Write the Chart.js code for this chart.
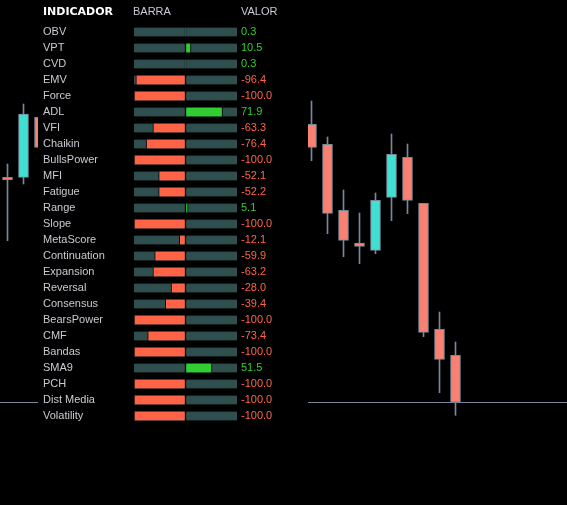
<!DOCTYPE html>
<html>
<head>
<meta charset="utf-8">
<script src="https://cdn.jsdelivr.net/npm/chart.js@4.4.1/dist/chart.umd.min.js"></script>
<style>
  html, body { margin: 0; padding: 0; background: #000; }
  #wrap { position: relative; width: 567px; height: 505px; overflow: hidden; background: #000; }
  #priceChart { position: absolute; left: 0; top: 0; }
  #tableChart { position: absolute; left: 38px; top: 0; background: #000; }
</style>
</head>
<body>
<div id="wrap">
  <canvas id="priceChart" width="567" height="505"></canvas>
  <canvas id="tableChart" width="270" height="430"></canvas>
</div>
<script>
// Velas (las ocultas detras de la tabla quedan en null)
const opens  = [32.77, 32.77, 38.77, null, null, null, null, null, null, null, null, null, null, null, null, null, null, null, null, 38.07, 36.07, 29.47, 26.20, 25.47, 30.77, 34.77, 30.17, 17.57, 14.97];
const highs  = [34.10, 40.10, 39.30, null, null, null, null, null, null, null, null, null, null, null, null, null, null, null, null, 40.40, 36.80, 31.50, 29.20, 31.20, 37.10, 36.10, 30.17, 19.30, 16.30];
const lows   = [26.43, 32.10, 35.20, null, null, null, null, null, null, null, null, null, null, null, null, null, null, null, null, 34.43, 27.13, 24.83, 24.13, 25.13, 28.43, 29.13, 16.83, 11.23, 8.97];
const closes = [32.50, 39.10, 35.77, null, null, null, null, null, null, null, null, null, null, null, null, null, null, null, null, 35.77, 29.17, 26.47, 25.87, 30.47, 35.07, 30.47, 17.27, 14.57, 10.30];

// Tabla de indicadores
const indicators = ['OBV', 'VPT', 'CVD', 'EMV', 'Force', 'ADL', 'VFI', 'Chaikin', 'BullsPower', 'MFI', 'Fatigue', 'Range', 'Slope', 'MetaScore', 'Continuation', 'Expansion', 'Reversal', 'Consensus', 'BearsPower', 'CMF', 'Bandas', 'SMA9', 'PCH', 'Dist Media', 'Volatility'];
const values = [0.3, 10.5, 0.3, -96.4, -100.0, 71.9, -63.3, -76.4, -100.0, -52.1, -52.2, 5.1, -100.0, -12.1, -59.9, -63.2, -28.0, -39.4, -100.0, -73.4, -100.0, 51.5, -100.0, -100.0, -100.0];
const headers = ['INDICADOR', 'BARRA', 'VALOR'];
const barMin = -100;
const barMax = 100;

const UP = '#40e0d0';
const DOWN = '#fa8072';
const EDGE = '#778899';
const GREEN = '#32cd32';
const RED = '#ff6347';
const TRACK = '#2f4f4f';

// Grafico de velas
const bodies = [];
const wicks = [];
const bodyColors = [];
for (let i = 0; i < opens.length; i++) {
  if (opens[i] === null) continue;
  bodies.push({ x: i, y: [Math.min(opens[i], closes[i]), Math.max(opens[i], closes[i])] });
  wicks.push({ x: i, y: [lows[i], highs[i]] });
  bodyColors.push(closes[i] >= opens[i] ? UP : DOWN);
}

const priceLine = {
  id: 'priceLine',
  beforeDatasetsDraw(chart) {
    const ctx = chart.ctx;
    const y = Math.round(chart.scales.y.getPixelForValue(closes[closes.length - 1])) + 0.5;
    ctx.save();
    ctx.strokeStyle = EDGE;
    ctx.lineWidth = 1;
    ctx.beginPath();
    ctx.moveTo(0, y);
    ctx.lineTo(chart.width, y);
    ctx.stroke();
    ctx.restore();
  }
};

new Chart(document.getElementById('priceChart').getContext('2d'), {
  type: 'bar',
  data: {
    datasets: [{
      data: bodies,
      backgroundColor: bodyColors,
      borderColor: EDGE,
      borderWidth: 1,
      borderSkipped: false,
      barThickness: 10,
      grouped: false,
      order: 0
    }, {
      data: wicks,
      backgroundColor: EDGE,
      borderWidth: 0,
      barThickness: 1,
      grouped: false,
      order: 1
    }]
  },
  options: {
    responsive: false,
    animation: false,
    layout: { padding: 0 },
    plugins: { legend: { display: false }, tooltip: { enabled: false } },
    scales: {
      x: { type: 'linear', min: -0.46875, max: 34.96875, offset: false, display: false },
      y: { type: 'linear', min: 0, max: 50.5, display: false }
    }
  },
  plugins: [priceLine]
});

// Tabla con barras
const tableText = {
  id: 'tableText',
  afterDraw(chart) {
    const ctx = chart.ctx;
    const area = chart.chartArea;
    const yScale = chart.scales.y;
    ctx.save();
    ctx.textBaseline = 'middle';
    ctx.textAlign = 'left';
    ctx.font = 'bold 11px "DejaVu Sans"';
    ctx.fillStyle = '#ffffff';
    ctx.fillText(headers[0], 5, 12);
    ctx.font = '11px "Liberation Sans", Arial, sans-serif';
    ctx.fillStyle = '#c8cbd2';
    ctx.fillText(headers[1], area.left - 1, 11.5);
    ctx.fillText(headers[2], area.right + 4, 11.5);
    for (let i = 0; i < indicators.length; i++) {
      const y = yScale.getPixelForValue(i) - 0.5;
      ctx.fillStyle = '#c8cbd2';
      ctx.fillText(indicators[i], 5, y);
      ctx.fillStyle = values[i] >= 0 ? GREEN : RED;
      ctx.fillText(values[i].toFixed(1), area.right + 4, y);
    }
    ctx.restore();
  }
};

new Chart(document.getElementById('tableChart').getContext('2d'), {
  type: 'bar',
  data: {
    labels: indicators,
    datasets: [{
      data: values.map(v => v >= 0 ? [0, v] : [v, 0]),
      backgroundColor: values.map(v => v >= 0 ? GREEN : RED),
      borderColor: '#000',
      borderWidth: { left: 1, right: 1, top: 0, bottom: 0 },
      borderSkipped: false,
      barThickness: 9,
      grouped: false,
      order: 0
    }, {
      data: indicators.map(() => [barMin, 0]),
      backgroundColor: TRACK,
      borderColor: '#000',
      borderWidth: { left: 0, right: 1, top: 0, bottom: 0 },
      borderSkipped: false,
      barThickness: 9,
      grouped: false,
      order: 1
    }, {
      data: indicators.map(() => [0, barMax]),
      backgroundColor: TRACK,
      borderColor: '#000',
      borderWidth: { left: 1, right: 0, top: 0, bottom: 0 },
      borderSkipped: false,
      barThickness: 9,
      grouped: false,
      order: 2
    }]
  },
  options: {
    indexAxis: 'y',
    responsive: false,
    animation: false,
    layout: { padding: { left: 96, right: 71, top: 24, bottom: 6 } },
    plugins: { legend: { display: false }, tooltip: { enabled: false } },
    scales: {
      x: { type: 'linear', min: barMin, max: barMax, display: false },
      y: { type: 'category', display: false, offset: true }
    }
  },
  plugins: [tableText]
});
</script>
</body>
</html>
